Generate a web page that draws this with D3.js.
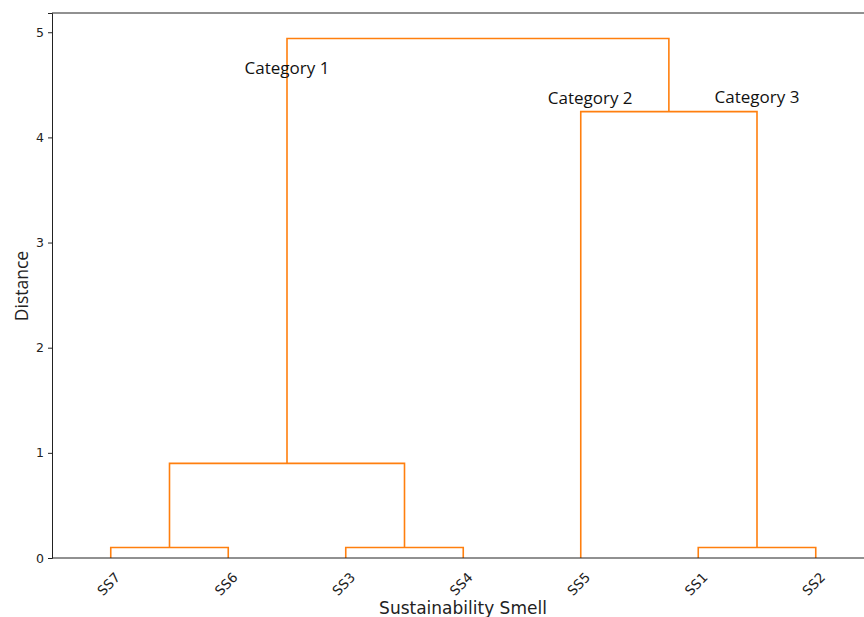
<!DOCTYPE html>
<html lang="en">
<head>
    <meta charset="UTF-8">
    <title>Dendrogram</title>
    <script src="https://d3js.org/d3.v7.min.js"></script>
    <style>
        body { margin: 0; background: #fff; }
        .tick text { font-family: "DejaVu Sans", sans-serif; font-size: 12.5px; fill: #222; }
        .leaf-label { font-family: "DejaVu Sans", sans-serif; font-size: 13.5px; fill: #222; }
        .cat-label { font-family: "Open Sans", sans-serif; font-size: 17px; text-anchor: middle; fill: #111; }
        .axis-title { font-family: "DejaVu Sans", sans-serif; font-size: 17px; text-anchor: middle; fill: #222; }
        .y-title { font-family: "Open Sans", sans-serif; font-size: 17.5px; text-anchor: middle; fill: #222; }
    </style>
</head>
<body>
<script>
    let width = 864;
    let height = 617;
    let margin = {left: 52, top: 13, bottom: 59};

    // leaves in the order they appear left to right
    let leafNames = ["SS7", "SS6", "SS3", "SS4", "SS5", "SS1", "SS2"];
    // linkage: cluster ids 0..6 are leaves, each merge creates id 7, 8, ...
    let mergeA = [0, 2, 5, 7, 4, 10];
    let mergeB = [1, 3, 6, 8, 9, 11];
    let mergeHeight = [0.1, 0.1, 0.1, 0.9, 4.245, 4.94];
    let yTicks = [0, 1, 2, 3, 4, 5];
    let catNames = ["Category 1", "Category 2", "Category 3"];
    let catX = [20, 45.8, 60];
    let catY = [4.6, 4.32, 4.33];

    let svg = d3.select("body").append("svg")
        .attr("width", width)
        .attr("height", height);

    // x axis runs past the right edge of the picture
    let x = d3.scaleLinear()
        .domain([0, 70])
        .range([margin.left, margin.left + 70 * 11.75]);

    let y = d3.scaleLinear()
        .domain([0, 5.183])
        .range([height - margin.bottom, margin.top]);

    // leaf positions like scipy: 5, 15, 25, ...
    let nodeX = leafNames.map((d, i) => 5 + 10 * i);
    let nodeH = leafNames.map(() => 0);
    for (let i = 0; i < mergeA.length; i++) {
        nodeX.push((nodeX[mergeA[i]] + nodeX[mergeB[i]]) / 2);
        nodeH.push(mergeHeight[i]);
    }

    let line = d3.line()
        .x(d => x(d[0]))
        .y(d => y(d[1]));

    for (let i = 0; i < mergeA.length; i++) {
        let a = mergeA[i], b = mergeB[i];
        let pts = [
            [nodeX[a], nodeH[a]],
            [nodeX[a], mergeHeight[i]],
            [nodeX[b], mergeHeight[i]],
            [nodeX[b], nodeH[b]]
        ];
        svg.append("path")
            .datum(pts)
            .attr("d", line)
            .attr("fill", "none")
            .attr("stroke", "#ff7f0e")
            .attr("stroke-width", 1.6);
    }

    // spines
    svg.append("line")
        .attr("x1", margin.left).attr("x2", width)
        .attr("y1", y(0)).attr("y2", y(0))
        .attr("stroke", "#222").attr("stroke-width", 1);
    svg.append("line")
        .attr("x1", margin.left).attr("x2", width)
        .attr("y1", margin.top).attr("y2", margin.top)
        .attr("stroke", "#222").attr("stroke-width", 1);

    let yAxis = svg.append("g")
        .attr("transform", "translate(" + margin.left + ",0)")
        .call(d3.axisLeft(y).tickValues(yTicks).tickSize(4).tickPadding(4).tickFormat(d3.format("d")));
    yAxis.select(".domain").attr("stroke", "#222");
    yAxis.selectAll(".tick line").attr("stroke", "#222");

    // leaf labels, rotated 45 degrees
    leafNames.forEach((name, i) => {
        let lx = x(nodeX[i]) - 2;
        let ly = y(0) + 26;
        svg.append("text")
            .attr("class", "leaf-label")
            .attr("transform", "translate(" + lx + "," + ly + ") rotate(-45)")
            .attr("text-anchor", "middle")
            .attr("dy", "0.35em")
            .text(name);
    });

    catNames.forEach((name, i) => {
        svg.append("text")
            .attr("class", "cat-label")
            .attr("x", x(catX[i]))
            .attr("y", y(catY[i]))
            .text(name);
    });

    svg.append("text")
        .attr("class", "axis-title")
        .attr("x", 463)
        .attr("y", 614)
        .text("Sustainability Smell");

    svg.append("text")
        .attr("class", "y-title")
        .attr("transform", "translate(28,286) rotate(-90)")
        .text("Distance");
</script>
</body>
</html>
